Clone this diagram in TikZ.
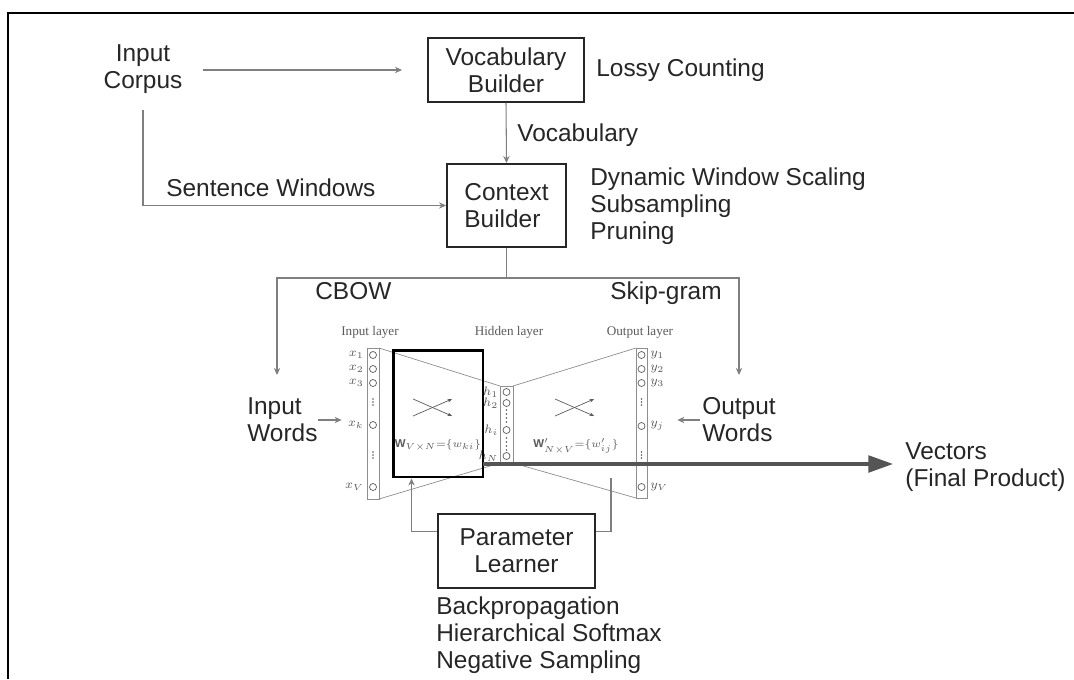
\documentclass[tikz,border=0pt]{standalone}
\usepackage{fontspec}
\setmainfont{Liberation Sans}
\newfontfamily\netfont{Liberation Serif}
\usetikzlibrary{arrows.meta,calc}

\definecolor{linegray}{HTML}{7F7F7F}
\definecolor{netgray}{HTML}{8E8E8E}
\definecolor{nettext}{HTML}{5A5A5A}
\definecolor{vecgray}{HTML}{555555}

\begin{document}
\begin{tikzpicture}[x=0.02cm, y=-0.02cm,
    font=\fontsize{13.9}{15.3}\selectfont,
    blockbox/.style={draw=black!85, line width=1.1pt, inner sep=0pt, text=black!85},
    lbl/.style={inner sep=0pt, text=black!85},
    conn/.style={draw=linegray, line width=0.6pt, -{Stealth[length=4pt, width=3.6pt]}},
    feed/.style={draw=linegray, line width=0.6pt},
    layercol/.style={draw=netgray, line width=0.4pt},
    neuron/.style={draw=nettext, line width=0.4pt},
    nlbl/.style={inner sep=0pt, text=nettext, font=\fontsize{7.5}{9}\selectfont\netfont},
    wlbl/.style={inner sep=0pt, text=nettext, font=\fontsize{6.5}{8}\selectfont},
    wcross/.style={draw=nettext, line width=0.4pt, -{Stealth[length=2.6pt, width=2.2pt]}},
    vecarrow/.style={draw=vecgray, line width=1.8pt, -{Triangle[length=14pt, width=9.5pt]}},
  ]

    %% =========================================================
    %% FRAME — open to the right and to the bottom
    %% =========================================================
    \useasboundingbox (0,0) rectangle (1074,679);
    \draw[line width=1.1pt] (1074,13) -- (8,13) -- (8,679);

    %% =========================================================
    %% TOP: corpus, vocabulary builder, context builder
    %% =========================================================
    \node[lbl, align=center] (corpus) at (143,69) {Input\\Corpus};
    \node[blockbox, align=center, minimum width=3.12cm, minimum height=1.28cm]
      (vocab) at (506,70) {Vocabulary\\Builder};
    \node[lbl, anchor=west] (lossy) at (596,70) {Lossy Counting};

    \node[lbl, anchor=west] (vocabtxt) at (517,135) {Vocabulary};

    \node[blockbox, align=left, minimum width=2.38cm, minimum height=1.66cm]
      (context) at (506.5,205.5) {Context\\Builder};
    \node[lbl, anchor=west] (sentwin) at (166,188) {Sentence Windows};
    \node[lbl, anchor=west, align=left] (ctxtech) at (590,206.5)
      {Dynamic Window Scaling\\Subsampling\\Pruning};

    \draw[conn, shorten <=0.4cm, shorten >=0.5cm] (corpus.east |- vocab.west) -- (vocab.west);
    \draw[conn] (vocab.south) -- (context.north);
    \draw[conn, shorten <=0.32cm] (corpus.south) |- (context.west);

    %% split into CBOW / Skip-gram
    \coordinate (split)  at (506.5,278);
    \coordinate (cbowin) at (277,375);
    \coordinate (skipin) at (739,375);
    \draw[feed] (context.south) -- (split);
    \draw[conn] (split) -| (cbowin);
    \draw[conn] (split) -| (skipin);
    \node[lbl, anchor=base west] (cbow) at (315,299) {CBOW};
    \node[lbl, anchor=base west] (skipgram) at (610,299) {Skip-gram};

    %% =========================================================
    %% NETWORK — input (x 367-379), hidden (x 500-513), output (x 636-647)
    %% =========================================================
    \node[nlbl] (inlayer)  at (370,332) {Input layer};
    \node[nlbl] (hidlayer) at (509,332) {Hidden layer};
    \node[nlbl] (outlayer) at (640,332) {Output layer};

    \draw[layercol] (379,348) -- (500,386) (379,499) -- (500,463)
                    (513,386) -- (636,348) (513,463) -- (636,498);

    % input layer
    \draw[layercol] (367,348) rectangle (379,499);
    \foreach \yy/\nm/\tx in {355/x1/x_1, 369/x2/x_2, 383/x3/x_3, 425/xk/x_k, 487/xV/x_V}{
      \draw[neuron] (373,\yy) circle[radius=0.07cm];
      \node[nlbl, anchor=east] (\nm) at (364,\yy) {$\tx$};
    }
    \foreach \yy in {399,402,405,452,455,458}
      \fill[nettext] (373,\yy) circle[radius=0.5pt];

    % hidden layer
    \draw[layercol] (500,386) rectangle (513,463);
    \foreach \yy/\nm/\tx in {392/h1/h_1, 403/h2/h_2, 430/hi/h_i, 456/hN/h_N}{
      \draw[neuron] (506.5,\yy) circle[radius=0.07cm];
      \node[nlbl, anchor=east] (\nm) at (498.5,\yy) {$\tx$};
    }
    \foreach \yy in {410,414,418,422,438,442,446,450}
      \fill[nettext] (506.5,\yy) circle[radius=0.5pt];

    % output layer
    \draw[layercol] (636,348) rectangle (647,498);
    \foreach \yy/\nm/\tx in {355/y1/y_1, 369/y2/y_2, 383/y3/y_3, 426/yj/y_j, 487/yV/y_V}{
      \draw[neuron] (641.5,\yy) circle[radius=0.07cm];
      \node[nlbl, anchor=west] (\nm) at (650,\yy) {$\tx$};
    }
    \foreach \yy in {399,402,405,452,455,458}
      \fill[nettext] (641.5,\yy) circle[radius=0.5pt];

    % weight matrices
    \foreach \cx in {433,575}{
      \draw[wcross] (\cx-20,399) -- (\cx+19,416);
      \draw[wcross] (\cx-20,416) -- (\cx+19,399);
    }
    \node[wlbl] (wmat)  at (438,445) {$\mathbf{W}_{V\times N}{=}\{w_{ki}\}$};
    \node[wlbl] (wpmat) at (576,446) {$\mathbf{W}'_{N\times V}{=}\{w'_{ij}\}$};

    \node[draw, line width=1.7pt, minimum width=1.8cm, minimum height=2.54cm]
      (wbox) at (438,413.5) {};

    %% =========================================================
    %% WORDS IN / OUT, FINAL PRODUCT
    %% =========================================================
    \node[lbl, anchor=west, align=left] (inwords)  at (247,420) {Input\\Words};
    \node[lbl, anchor=west, align=left] (outwords) at (702,420) {Output\\Words};
    \draw[conn, shorten >=0.12cm] (inwords.east) -- (inwords.east -| xk.west);
    \draw[conn, shorten <=0.04cm, shorten >=0.26cm] (outwords.west) -- (outwords.west -| yj.east);

    \node[lbl, anchor=west, align=left] (vectors) at (905,467) {Vectors\\(Final Product)};
    \coordinate (hout) at (483,464);
    \draw[vecarrow, shorten >=0.24cm] (hout) -- (vectors.west |- hout);

    %% =========================================================
    %% BOTTOM: parameter learner
    %% =========================================================
    \node[blockbox, align=center, minimum width=3.14cm, minimum height=1.48cm]
      (learner) at (516.5,551) {Parameter\\Learner};
    \node[lbl, anchor=west, align=left] (methods) at (436,635)
      {Backpropagation\\Hierarchical Softmax\\Negative Sampling};

    \coordinate (fbend) at (611,478);
    \draw[conn] ($(learner.north west)+(0,18)$) -| ($(wbox.south west)+(20,0)$);
    \draw[feed] ($(learner.north east)+(0,18)$) -| (fbend);

\end{tikzpicture}
\end{document}
